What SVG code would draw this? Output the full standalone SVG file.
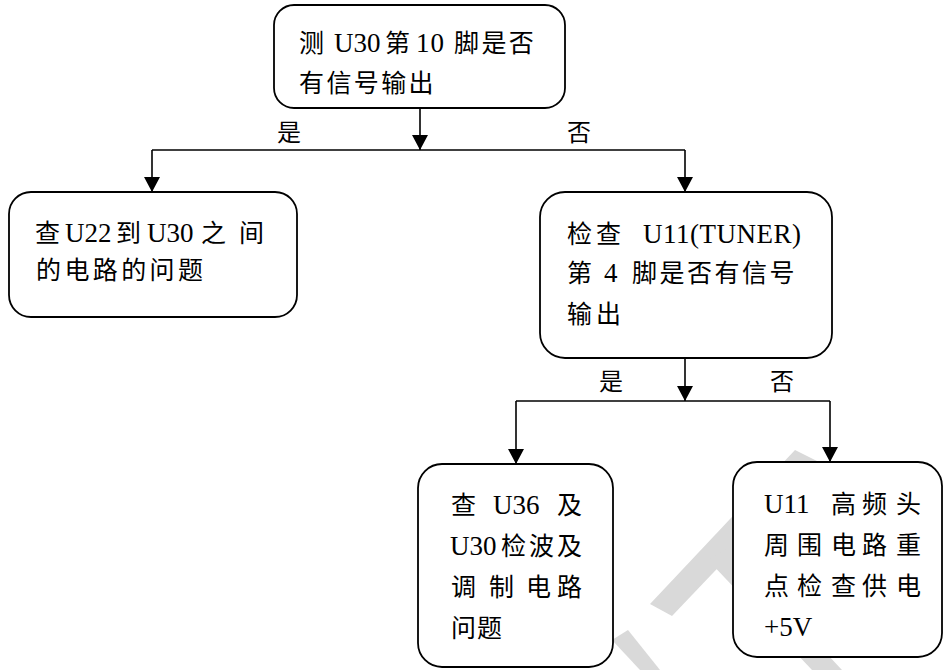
<svg xmlns="http://www.w3.org/2000/svg" width="944" height="670" viewBox="0 0 944 670">
<style>
.box{fill:#fff;stroke:#000;stroke-width:1.8}
.ln{fill:none;stroke:#000;stroke-width:1.6}
.t{font-family:"Noto Sans CJK SC",sans-serif;font-size:25px;fill:#000}
.l{font-family:"Liberation Serif","Times New Roman",serif;font-size:27px}
.lb{font-family:"Noto Sans CJK SC",sans-serif;font-size:24px;fill:#000}
.wm{fill:#d9d9d9}
</style>
<defs>
<marker id="ah" markerWidth="16" markerHeight="16" refX="15" refY="8" orient="auto" markerUnits="userSpaceOnUse">
<path d="M0,0 L15,8 L0,16 Z" fill="#000"/>
</marker>
</defs>
<g id="watermark">
<polygon class="wm" points="795,450 819,462 672,616 650,604"/>
<polygon class="wm" points="708,560 728,548 842,670 812,670"/>
<polygon class="wm" points="612,640 628,630 660,670 640,670"/>
</g>
<g id="connectors">
<line class="ln" x1="420" y1="108" x2="420" y2="150" marker-end="url(#ah)"/>
<polyline class="ln" points="152,150 685,150"/>
<line class="ln" x1="152" y1="150" x2="152" y2="192" marker-end="url(#ah)"/>
<line class="ln" x1="685" y1="150" x2="685" y2="192" marker-end="url(#ah)"/>
<line class="ln" x1="685" y1="358" x2="685" y2="401" marker-end="url(#ah)"/>
<polyline class="ln" points="516,401 830,401"/>
<line class="ln" x1="516" y1="401" x2="516" y2="464" marker-end="url(#ah)"/>
<line class="ln" x1="830" y1="401" x2="830" y2="462" marker-end="url(#ah)"/>
<text class="lb" x="277" y="141">是</text>
<text class="lb" x="567" y="141">否</text>
<text class="lb" x="599" y="390">是</text>
<text class="lb" x="770" y="390">否</text>
</g>
<g id="n1">
<rect class="box" x="274" y="5" width="291" height="103" rx="20"/>
<text class="t" y="52"><tspan x="299">测</tspan><tspan class="l" x="334">U30</tspan><tspan x="385">第</tspan><tspan class="l" x="416" letter-spacing="1">10</tspan><tspan x="454 481.4 508.8">脚是否</tspan></text>
<text class="t" y="92"><tspan x="299 326.4 353.8 381.2 408.6">有信号输出</tspan></text>
</g>
<g id="n2">
<rect class="box" x="9" y="192" width="288" height="125" rx="22"/>
<text class="t" y="242"><tspan x="35">查</tspan><tspan class="l" x="65">U22</tspan><tspan x="116">到</tspan><tspan class="l" x="147">U30</tspan><tspan x="201 239">之间</tspan></text>
<text class="t" y="279"><tspan x="36 64.4 92.8 121.2 149.6 178">的电路的问题</tspan></text>
</g>
<g id="n3">
<rect class="box" x="540" y="192" width="292" height="166" rx="25"/>
<text class="t" y="243"><tspan x="567 596">检查</tspan><tspan class="l" x="643" letter-spacing="0.5">U11(TUNER)</tspan></text>
<text class="t" y="282"><tspan x="567">第</tspan><tspan class="l" x="604">4</tspan><tspan x="632 659.5 687 714.5 742 769.5">脚是否有信号</tspan></text>
<text class="t" y="323"><tspan x="567 596">输出</tspan></text>
</g>
<g id="n4">
<rect class="box" x="418" y="464" width="195" height="203" rx="24"/>
<text class="t" y="514"><tspan x="451">查</tspan><tspan class="l" x="493">U36</tspan><tspan x="557">及</tspan></text>
<text class="t" y="555"><tspan class="l" x="450">U30</tspan><tspan x="501 529 557">检波及</tspan></text>
<text class="t" y="596"><tspan x="451 489 526 557">调制电路</tspan></text>
<text class="t" y="637"><tspan x="451 477">问题</tspan></text>
</g>
<g id="n5">
<rect class="box" x="733" y="462" width="209" height="195" rx="24"/>
<text class="t" y="513"><tspan class="l" x="764">U11</tspan><tspan x="831 862 896">高频头</tspan></text>
<text class="t" y="554"><tspan x="764 797 831 862 896">周围电路重</tspan></text>
<text class="t" y="595"><tspan x="764 797 831 862 896">点检查供电</tspan></text>
<text class="t" y="636"><tspan class="l" x="764">+5V</tspan></text>
</g>
</svg>
